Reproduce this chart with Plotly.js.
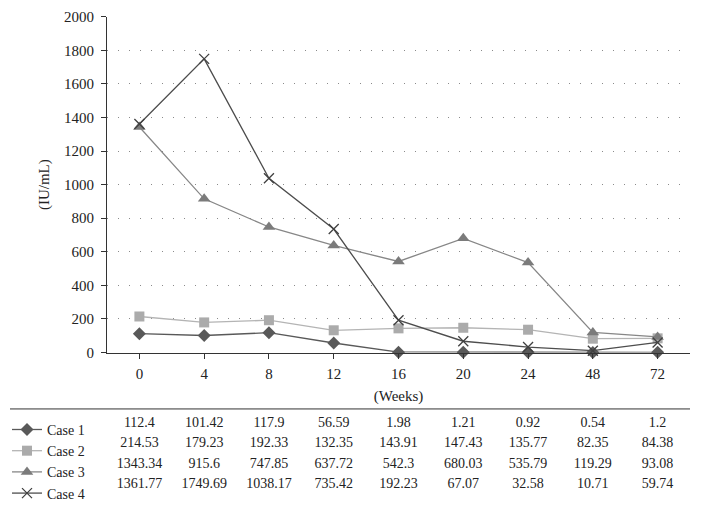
<!DOCTYPE html>
<html>
<head>
<meta charset="utf-8">
<script src="https://cdn.plot.ly/plotly-3.0.1.min.js"></script>
<style>html,body{margin:0;padding:0;background:#fff;}#chart{width:701px;height:509px;}</style>
</head>
<body>
<div id="chart"></div>
<script>
const weeks = ['0', '4', '8', '12', '16', '20', '24', '48', '72'];
const seriesNames = ['Case 1', 'Case 2', 'Case 3', 'Case 4'];
const case1 = [112.4, 101.42, 117.9, 56.59, 1.98, 1.21, 0.92, 0.54, 1.2];
const case2 = [214.53, 179.23, 192.33, 132.35, 143.91, 147.43, 135.77, 82.35, 84.38];
const case3 = [1343.34, 915.6, 747.85, 637.72, 542.3, 680.03, 535.79, 119.29, 93.08];
const case4 = [1361.77, 1749.69, 1038.17, 735.42, 192.23, 67.07, 32.58, 10.71, 59.74];
const yTicks = [0, 200, 400, 600, 800, 1000, 1200, 1400, 1600, 1800, 2000];

const W = 701, H = 509;
const FONT = 'Liberation Serif, Times New Roman, serif';
const px = v => v / W;
const py = v => (H - v) / H;

const allSeries = [case1, case2, case3, case4];
const styles = [
  {symbol: 'diamond', size: 10, color: '#595959', line: '#595959', lw: 1.3},
  {symbol: 'square', size: 10, color: '#ababab', line: '#b4b4b4', lw: 1.3},
  {symbol: 'triangle-up', size: 11, color: '#7b7b7b', line: '#878787', lw: 1.3},
  {symbol: 'x-thin-open', size: 10, color: '#404040', line: '#4d4d4d', lw: 1.3}
];

const traces = [];
allSeries.forEach((vals, i) => {
  const s = styles[i];
  traces.push({
    type: 'scatter', mode: 'lines+markers', name: seriesNames[i],
    x: weeks, y: vals, xaxis: 'x', yaxis: 'y',
    line: {color: s.line, width: s.lw},
    marker: {symbol: s.symbol, size: s.size, color: s.color,
             line: {color: s.color, width: s.symbol === 'x-thin-open' ? 1.3 : 0}},
    cliponaxis: false
  });
});
// data table rows: values under each week column
allSeries.forEach((vals, i) => {
  traces.push({
    type: 'scatter', mode: 'text', showlegend: false, hoverinfo: 'skip',
    x: weeks, y: weeks.map(() => i + 1), xaxis: 'x', yaxis: 'y2',
    text: vals.map(v => String(v)),
    textposition: 'middle center',
    textfont: {family: FONT, size: 14, color: '#222'},
    cliponaxis: false
  });
});

const layout = {
  width: W, height: H,
  margin: {l: 0, r: 0, t: 0, b: 0},
  paper_bgcolor: '#fff', plot_bgcolor: '#fff',
  font: {family: FONT, size: 14, color: '#222'},
  showlegend: true,
  legend: {
    x: px(7), xanchor: 'left', y: py(418), yanchor: 'top',
    font: {family: FONT, size: 14, color: '#222'},
    itemwidth: 30, traceorder: 'normal', bgcolor: 'rgba(0,0,0,0)',
    tracegroupgap: 0
  },
  xaxis: {
    type: 'category', domain: [px(107), px(690)], range: [-0.5, 8.5],
    anchor: 'y', automargin: false, showline: true, linecolor: '#333', linewidth: 1,
    ticks: 'outside', ticklen: 5, tickcolor: '#333', showgrid: false, zeroline: false,
    tickfont: {family: FONT, size: 15, color: '#222'}, ticklabelstandoff: 2,
    title: {text: '(Weeks)', font: {family: FONT, size: 15, color: '#222'}, standoff: 9}
  },
  yaxis: {
    domain: [py(356), py(17)], range: [0, 2000], tickvals: yTicks,
    anchor: 'x', automargin: false, showline: true, linecolor: '#333', linewidth: 1,
    ticks: 'outside', ticklen: 5, tickcolor: '#333',
    showgrid: true, gridcolor: '#8a8a8a', griddash: '1px,10px', gridwidth: 1, zeroline: false,
    tickfont: {family: FONT, size: 15, color: '#222'}, ticklabelstandoff: 4,
    title: {text: '(IU/mL)', font: {family: FONT, size: 15, color: '#222'}, standoff: 10}
  },
  yaxis2: {
    domain: [py(499), py(418)], range: [4.5, 0.5], anchor: 'x',
    visible: false, showgrid: false, zeroline: false
  },
  shapes: [
    {type: 'line', xref: 'paper', yref: 'paper', x0: px(10), x1: px(690), y0: py(413), y1: py(413),
     line: {color: '#333', width: 1}}
  ]
};

Plotly.newPlot('chart', traces, layout, {displayModeBar: false, staticPlot: true});
</script>
</body>
</html>
